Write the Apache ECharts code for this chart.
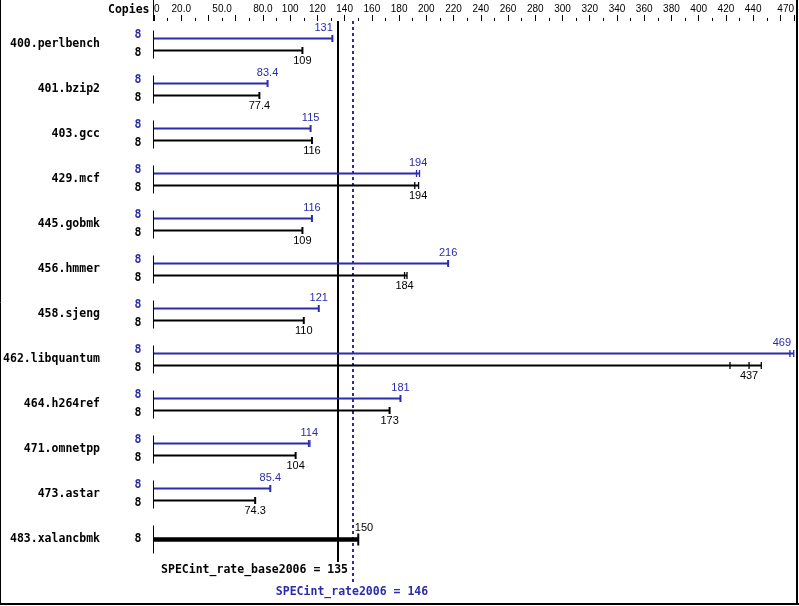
<!DOCTYPE html>
<html><head><meta charset="utf-8">
<script src="https://cdn.jsdelivr.net/npm/echarts@6/dist/echarts.min.js"></script>
<style>html,body{margin:0;padding:0;background:#fff}#c{width:799px;height:606px}</style>
</head><body><div id="c"></div>
<script>
const benchmarks = ['400.perlbench','401.bzip2','403.gcc','429.mcf','445.gobmk','456.hmmer','458.sjeng','462.libquantum','464.h264ref','471.omnetpp','473.astar','483.xalancbmk'];
const copiesPeak = [8,8,8,8,8,8,8,8,8,8,8,null];
const copiesBase = [8,8,8,8,8,8,8,8,8,8,8,8];
const peakScore = [131,83.4,115,194,116,216,121,469,181,114,85.4,null];
const baseScore = [109,77.4,116,194,109,184,110,437,173,104,74.3,150];
const peakRuns = [[131],[83.4],[115],[192.8,195],[116],[216],[121],[467,469.8],[181],[113.5,114.5],[85.4],null];
const baseRuns = [[109],[77.4],[116],[191.5,194.3],[109],[184,185.8],[110],[423,437,446],[173],[104],[74.3],[150]];
const tickValues = [0,20,50,80,100,120,140,160,180,200,220,240,260,280,300,320,340,360,380,400,420,440,470];
const tickTexts = ['0','20.0','50.0','80.0','100','120','140','160','180','200','220','240','260','280','300','320','340','360','380','400','420','440','470'];
const baseSummary = 135;
const peakSummary = 146;
const baseSummaryText = 'SPECint_rate_base2006 = 135';
const peakSummaryText = 'SPECint_rate2006 = 146';

const BLUE = '#2b2bab';
const BOLD = 'bold 11.5px "DejaVu Sans Mono"';
const VAL = '11px "Liberation Sans"';

const chart = echarts.init(document.getElementById('c'), null, {renderer:'canvas'});

function textW(s){ let w=0; for(const ch of s){ w += (ch==='.')?3.06:6.12; } return w; }

function renderBench(params, api){
  const i = api.value(0);
  const p0 = api.coord([0, i]);
  const x0 = p0[0], c = p0[1];
  const xMax = api.coord([470, i])[0];
  const lineXs = [api.coord([baseSummary, i])[0], api.coord([peakSummary, i])[0]];
  const kids = [];
  function labelPos(cx, txt){
    const w = textW(txt);
    if(cx + w/2 > xMax - 2) return {x:xMax - 3, align:'right'};
    for(const L of lineXs){
      if(cx - w/2 - 1 < L && L < cx + w/2 + 1){
        return cx < L ? {x:L-5, align:'right'} : {x:L+2, align:'left'};
      }
    }
    return {x:cx, align:'center'};
  }
  function bar(runs, score, y, color, lw, capH, labelY){
    const xs = runs.map(v=>api.coord([v, i])[0]);
    const xe = Math.max.apply(null, xs);
    kids.push({type:'line', shape:{x1:x0, y1:y, x2:xe, y2:y}, style:{stroke:color, lineWidth:lw}});
    const cw = runs.length > 1 ? 1.3 : 2;
    xs.forEach(x=>kids.push({type:'line', shape:{x1:x, y1:y-capH, x2:x, y2:y+capH}, style:{stroke:color, lineWidth:cw}}));
    const txt = String(score);
    const lp = labelPos(api.coord([score, i])[0], txt);
    kids.push({type:'text', style:{text:txt, x:lp.x, y:labelY, align:lp.align, verticalAlign:'middle', font:VAL, fill:color}});
  }
  const pk = peakRuns[params.dataIndex];
  if(pk){
    bar(pk, peakScore[params.dataIndex], c-6, BLUE, 2, 3.5, c-17);
    bar(baseRuns[params.dataIndex], baseScore[params.dataIndex], c+6, '#000', 2, 3.5, c+16.5);
    kids.push({type:'text', style:{text:String(copiesPeak[params.dataIndex]), x:x0-16, y:c-9, align:'center', verticalAlign:'middle', font:BOLD, fill:BLUE}});
    kids.push({type:'text', style:{text:String(copiesBase[params.dataIndex]), x:x0-16, y:c+9, align:'center', verticalAlign:'middle', font:BOLD, fill:'#000'}});
  } else {
    bar(baseRuns[params.dataIndex], baseScore[params.dataIndex], c, '#000', 4.5, 6, c-12);
    kids.push({type:'text', style:{text:String(copiesBase[params.dataIndex]), x:x0-16, y:c, align:'center', verticalAlign:'middle', font:BOLD, fill:'#000'}});
  }
  kids.push({type:'line', shape:{x1:x0-0.5, y1:c-14, x2:x0-0.5, y2:c+14}, style:{stroke:'#000', lineWidth:1}});
  return {type:'group', children:kids};
}

function renderSummary(params, api){
  const v = api.value(0);
  const x = Math.round(api.coord([v, 0])[0]);
  const isPeak = params.dataIndex === 1;
  const top = 21;
  const bottom = isPeak ? 584 : 562;
  const kids = [{type:'line', shape:{x1:x, y1:top, x2:x, y2:bottom},
    style:{stroke:isPeak?BLUE:'#000', lineWidth:2, lineDash:isPeak?[3,3]:null}}];
  if(isPeak){
    kids.push({type:'text', style:{text:peakSummaryText, x:x-1, y:592, align:'center', verticalAlign:'middle', font:BOLD, fill:BLUE}});
  } else {
    kids.push({type:'text', style:{text:baseSummaryText, x:x+10, y:570, align:'right', verticalAlign:'middle', font:BOLD, fill:'#000'}});
  }
  return {type:'group', children:kids};
}

const option = {
  animation:false,
  grid:{left:154, top:22, width:640, height:540, containLabel:false},
  xAxis:[
    {type:'value', position:'top', offset:1, min:0, max:470, interval:10, splitLine:{show:false},
     axisLine:{show:false}, axisTick:{show:true, length:3, lineStyle:{color:'#000', width:1}},
     axisLabel:{show:true, margin:7, fontSize:10, fontFamily:'Liberation Sans', color:'#000',
       alignMinLabel:'left', alignMaxLabel:'right',
       formatter:function(v){ const k = tickValues.indexOf(v); return k>=0 ? tickTexts[k] : ''; }}},
    {type:'value', position:'top', offset:1, min:0, max:470, interval:20, splitLine:{show:false},
     axisLine:{show:false}, axisTick:{show:true, length:6, lineStyle:{color:'#000', width:1}},
     axisLabel:{show:false}}
  ],
  yAxis:{type:'category', data:benchmarks, inverse:true,
    axisLine:{show:false}, axisTick:{show:false}, splitLine:{show:false},
    axisLabel:{margin:54, color:'#000', fontFamily:'DejaVu Sans Mono', fontWeight:'bold', fontSize:11.5}},
  graphic:[
    {type:'text', left:108, top:4, style:{text:'Copies', font:BOLD, fill:'#000'}},
    {type:'line', shape:{x1:153.5, y1:0, x2:153.5, y2:21}, style:{stroke:'#000', lineWidth:1}},
    {type:'line', shape:{x1:0.5, y1:0, x2:0.5, y2:605}, style:{stroke:'#000', lineWidth:1}},
    {type:'line', shape:{x1:797, y1:0, x2:797, y2:605}, style:{stroke:'#000', lineWidth:2}},
    {type:'line', shape:{x1:0, y1:604, x2:799, y2:604}, style:{stroke:'#000', lineWidth:2}}
  ],
  series:[
    {type:'custom', coordinateSystem:'cartesian2d', xAxisIndex:0, renderItem:renderBench,
     encode:{x:1, y:0}, clip:false,
     data:benchmarks.map((b,i)=>[i, baseScore[i]])},
    {type:'custom', coordinateSystem:'cartesian2d', xAxisIndex:0, renderItem:renderSummary,
     encode:{x:0}, clip:false, z:1,
     data:[[baseSummary],[peakSummary]]}
  ]
};
chart.setOption(option);
</script></body></html>
